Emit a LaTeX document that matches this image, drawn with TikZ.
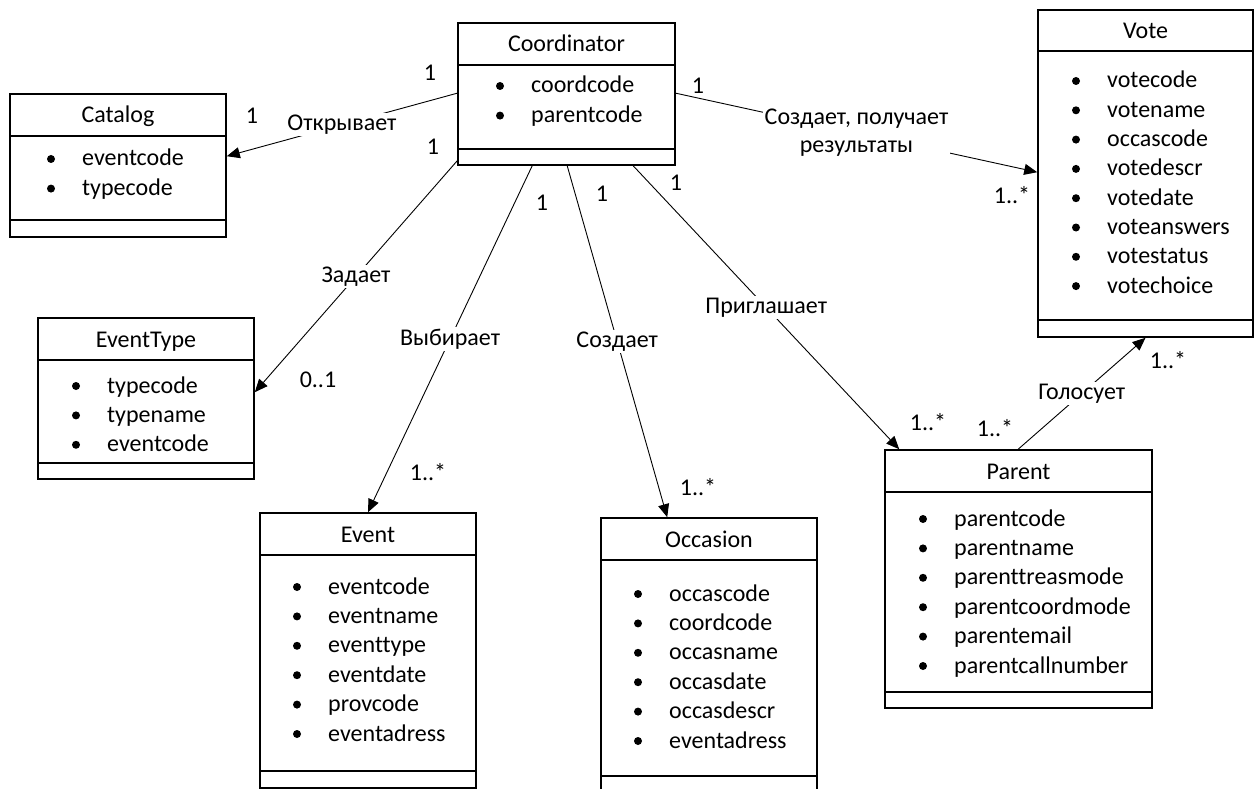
\documentclass[tikz,border=0pt]{standalone}
\usepackage{fontspec}
\setmainfont{Carlito}[Ligatures={NoCommon}]
\usetikzlibrary{arrows.meta,calc}

\tikzset{
  every node/.style={font=\fontsize{24pt}{28pt}\selectfont},
  cls/.style={draw, line width=1.6pt, inner sep=0pt},
  sep/.style={line width=1.6pt},
  title/.style={anchor=base},
  attr/.style={anchor=base west, inner sep=0pt},
  mult/.style={inner sep=1pt},
  rel/.style={fill=white, inner sep=2pt, align=center},
  assoc/.style={line width=0.9pt, -{Triangle[length=13pt,width=11pt]}},
}

\begin{document}
\begin{tikzpicture}[x=1pt, y=-1pt]
\useasboundingbox (0,0) rectangle (1259,789);

% Coordinator
\node[cls, minimum width=217pt, minimum height=142pt] (coord) at (566.5,94) {};
\node[title] (coord-t) at (566.5,52) {Coordinator};
\draw[sep] (coord.north west) ++(0,43) -- ++(217,0) (coord.south west) ++(0,-17) -- ++(217,0);
\foreach \a [count=\k] in {coordcode,parentcode}
  {\node[attr] (coord-\k) at (531,{93+(\k-1)*29.6}) {\a};
   \fill ($(coord-\k.base west)+(-31,-7)$) circle[radius=4pt];}

% Catalog
\node[cls, minimum width=216pt, minimum height=143pt] (catalog) at (118,165.5) {};
\node[title] (catalog-t) at (118,123) {Catalog};
\draw[sep] (catalog.north west) ++(0,43) -- ++(216,0) (catalog.south west) ++(0,-18) -- ++(216,0);
\foreach \a [count=\k] in {eventcode,typecode}
  {\node[attr] (catalog-\k) at (82,{166+(\k-1)*29.6}) {\a};
   \fill ($(catalog-\k.base west)+(-31,-7)$) circle[radius=4pt];}

% EventType
\node[cls, minimum width=216pt, minimum height=161pt] (etype) at (146,398.5) {};
\node[title] (etype-t) at (146,347) {EventType};
\draw[sep] (etype.north west) ++(0,43) -- ++(216,0) (etype.south west) ++(0,-17) -- ++(216,0);
\foreach \a [count=\k] in {typecode,typename,eventcode}
  {\node[attr] (etype-\k) at (107,{393+(\k-1)*29.4}) {\a};
   \fill ($(etype-\k.base west)+(-31,-7)$) circle[radius=4pt];}

% Event
\node[cls, minimum width=216pt, minimum height=275pt] (event) at (368,650.5) {};
\node[title] (event-t) at (368,542) {Event};
\draw[sep] (event.north west) ++(0,43) -- ++(216,0) (event.south west) ++(0,-18) -- ++(216,0);
\foreach \a [count=\k] in {eventcode,eventname,eventtype,eventdate,provcode,eventadress}
  {\node[attr] (event-\k) at (328,{594+(\k-1)*29.4}) {\a};
   \fill ($(event-\k.base west)+(-31,-7)$) circle[radius=4pt];}

% Occasion
\node[cls, minimum width=216pt, minimum height=275pt] (occasion) at (709,655.5) {};
\node[title] (occasion-t) at (709,547) {Occasion};
\draw[sep] (occasion.north west) ++(0,43) -- ++(216,0) (occasion.south west) ++(0,-18) -- ++(216,0);
\foreach \a [count=\k] in {occascode,coordcode,occasname,occasdate,occasdescr,eventadress}
  {\node[attr] (occasion-\k) at (669,{601+(\k-1)*29.4}) {\a};
   \fill ($(occasion-\k.base west)+(-31,-7)$) circle[radius=4pt];}

% Parent
\node[cls, minimum width=267pt, minimum height=258pt] (parent) at (1018.5,579) {};
\node[title] (parent-t) at (1018.5,479) {Parent};
\draw[sep] (parent.north west) ++(0,43) -- ++(267,0) (parent.south west) ++(0,-17) -- ++(267,0);
\foreach \a [count=\k] in {parentcode,parentname,parenttreasmode,parentcoordmode,parentemail,parentcallnumber}
  {\node[attr] (parent-\k) at (954,{526+(\k-1)*29.4}) {\a};
   \fill ($(parent-\k.base west)+(-31,-7)$) circle[radius=4pt];}

% Vote
\node[cls, minimum width=215pt, minimum height=327pt] (vote) at (1145.5,173.5) {};
\node[title] (vote-t) at (1145.5,39) {Vote};
\draw[sep] (vote.north west) ++(0,42) -- ++(215,0) (vote.south west) ++(0,-18) -- ++(215,0);
\foreach \a [count=\k] in {votecode,votename,occascode,votedescr,votedate,voteanswers,votestatus,votechoice}
  {\node[attr] (vote-\k) at (1107,{88+(\k-1)*29.3}) {\a};
   \fill ($(vote-\k.base west)+(-31,-7)$) circle[radius=4pt];}

% associations
\draw[assoc] ($(coord.north west)+(0,71)$) -- node[rel] (l-open) {Открывает} ($(catalog.north east)+(0,63)$);
\draw[assoc] ($(coord.south west)+(0,-5)$) -- node[rel] (l-set) {Задает} ($(etype.north east)+(0,75)$);
\draw[assoc] ($(coord.south west)+(75,0)$) -- node[rel] (l-pick) {Выбирает} (event.north);
\draw[assoc] ($(coord.south west)+(110,0)$) -- node[rel] (l-make) {Создает} ($(occasion.north west)+(67,0)$);
\draw[assoc] ($(coord.south west)+(176,0)$) -- node[rel] (l-invite) {Приглашает} ($(parent.north west)+(15,0)$);
\draw[assoc] ($(coord.north east)+(0,71)$) -- node[rel] (l-vote) {Создает, получает\\результаты} ($(vote.north west)+(0,163)$);
\draw[assoc] ($(parent.north west)+(134,0)$) -- node[rel] (l-poll) {Голосует} (vote.south);

% multiplicities
\node[mult] (m-open1) at (430,73) {1};
\node[mult] (m-open2) at (252,116) {1};
\node[mult] (m-set1) at (433,147) {1};
\node[mult] (m-set2) at (318,380) {0..1};
\node[mult] (m-pick1) at (542,203) {1};
\node[mult] (m-pick2) at (428,472) {1..*};
\node[mult] (m-make1) at (602,194) {1};
\node[mult] (m-make2) at (698,487) {1..*};
\node[mult] (m-invite1) at (676,183) {1};
\node[mult] (m-invite2) at (928,422) {1..*};
\node[mult] (m-vote1) at (698,86) {1};
\node[mult] (m-vote2) at (1012,195) {1..*};
\node[mult] (m-poll1) at (995,428) {1..*};
\node[mult] (m-poll2) at (1168,360) {1..*};
\end{tikzpicture}
\end{document}
